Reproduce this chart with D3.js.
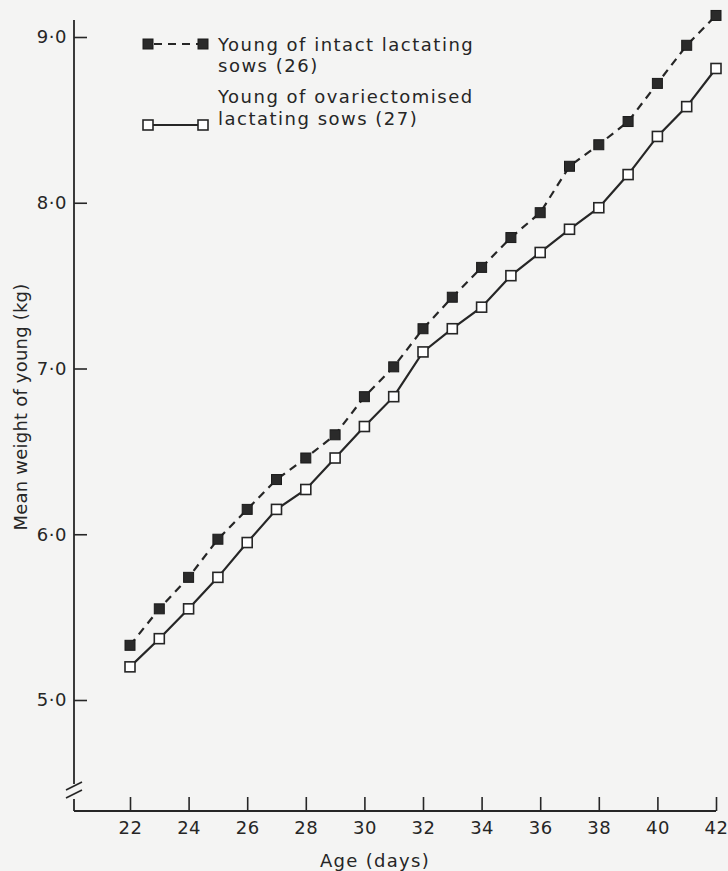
<!DOCTYPE html>
<html>
<head>
<meta charset="utf-8">
<script src="https://cdn.jsdelivr.net/npm/d3@7"></script>
<style>
  html, body { margin: 0; padding: 0; background: #f4f4f3; }
  svg { display: block; }
  text { font-family: "DejaVu Sans", sans-serif; fill: #262626; }
</style>
</head>
<body>
<script>
// ---- data ----
const ages = [22,23,24,25,26,27,28,29,30,31,32,33,34,35,36,37,38,39,40,41,42];
const intact = [5.33,5.55,5.74,5.97,6.15,6.33,6.46,6.60,6.83,7.01,7.24,7.43,7.61,7.79,7.94,8.22,8.35,8.49,8.72,8.95,9.13];
const ovariectomised = [5.20,5.37,5.55,5.74,5.95,6.15,6.27,6.46,6.65,6.83,7.10,7.24,7.37,7.56,7.70,7.84,7.97,8.17,8.40,8.58,8.81];
const xTicks = [22,24,26,28,30,32,34,36,38,40,42];
const yTicks = [5,6,7,8,9];
const legendLabels = [
  ["Young of intact lactating", "sows (26)"],
  ["Young of ovariectomised", "lactating sows (27)"]
];
const xTitle = "Age (days)";
const yTitle = "Mean weight of young (kg)";

// ---- layout ----
const W = 728, H = 871;
const ink = "#262626";
const svg = d3.select("body").append("svg").attr("width", W).attr("height", H);

const x = d3.scaleLinear().domain([22, 42]).range([130, 716]);
const y = d3.scaleLinear().domain([5, 9]).range([700, 37]);
const axisX = 74, axisY = 811;

// y axis
const yAxis = d3.axisLeft(y).tickValues(yTicks).tickSizeInner(-13).tickSizeOuter(0).tickPadding(7)
  .tickFormat(d => d3.format(".1f")(d).replace(".", "·"));
const gy = svg.append("g").attr("transform", `translate(${axisX},0)`).call(yAxis);
gy.select(".domain").remove();
gy.selectAll(".tick line").attr("stroke", ink).attr("stroke-width", 1.6);
gy.selectAll(".tick text").attr("font-size", 18).attr("font-family", "DejaVu Sans").attr("fill", ink)
  .attr("letter-spacing", 0.5);

// y axis line with break
svg.append("line").attr("x1", axisX).attr("x2", axisX).attr("y1", 20).attr("y2", 784)
  .attr("stroke", ink).attr("stroke-width", 1.8);
svg.append("line").attr("x1", axisX).attr("x2", axisX).attr("y1", 799).attr("y2", axisY)
  .attr("stroke", ink).attr("stroke-width", 1.8);
[[790, 782], [798, 790]].forEach(([a, b]) => {
  svg.append("line").attr("x1", axisX - 8).attr("x2", axisX + 8).attr("y1", a).attr("y2", b)
    .attr("stroke", ink).attr("stroke-width", 1.6);
});

// x axis
const xAxis = d3.axisBottom(x).tickValues(xTicks).tickSizeInner(-14).tickSizeOuter(0).tickPadding(10);
const gx = svg.append("g").attr("transform", `translate(0,${axisY})`).call(xAxis);
gx.select(".domain").remove();
gx.selectAll(".tick line").attr("stroke", ink).attr("stroke-width", 1.6);
gx.selectAll(".tick text").attr("font-size", 18).attr("font-family", "DejaVu Sans").attr("fill", ink)
  .attr("letter-spacing", 0.5);
svg.append("line").attr("x1", axisX).attr("x2", x(42)).attr("y1", axisY).attr("y2", axisY)
  .attr("stroke", ink).attr("stroke-width", 1.8);

// titles
svg.append("text").attr("x", 375).attr("y", 867).attr("text-anchor", "middle")
  .attr("font-size", 18).attr("letter-spacing", 1.3).text(xTitle);
svg.append("text").attr("transform", "translate(27,407) rotate(-90)").attr("text-anchor", "middle")
  .attr("font-size", 18).attr("letter-spacing", 0.2).text(yTitle);

// series
const line = d3.line().x(d => x(d[0])).y(d => y(d[1]));
const sA = ages.map((a, i) => [a, intact[i]]);
const sB = ages.map((a, i) => [a, ovariectomised[i]]);

svg.append("path").datum(sA).attr("d", line).attr("fill", "none").attr("stroke", ink)
  .attr("stroke-width", 2.2).attr("stroke-dasharray", "8,6");
svg.append("path").datum(sB).attr("d", line).attr("fill", "none").attr("stroke", ink)
  .attr("stroke-width", 2.2);

const ms = 10;
svg.append("g").selectAll("rect").data(sA).join("rect")
  .attr("x", d => x(d[0]) - ms / 2).attr("y", d => y(d[1]) - ms / 2)
  .attr("width", ms).attr("height", ms).attr("fill", "#2a2a2a").attr("stroke", "#1a1a1a").attr("stroke-width", 1);
svg.append("g").selectAll("rect").data(sB).join("rect")
  .attr("x", d => x(d[0]) - ms / 2).attr("y", d => y(d[1]) - ms / 2)
  .attr("width", ms).attr("height", ms).attr("fill", "#ffffff").attr("stroke", ink).attr("stroke-width", 1.6);

// legend
const lg = svg.append("g");
const lx1 = 148, lx2 = 203;
const fs = 18, ls = 1.5;
// entry 1
lg.append("line").attr("x1", lx1).attr("x2", lx2).attr("y1", 44).attr("y2", 44)
  .attr("stroke", ink).attr("stroke-width", 2.2).attr("stroke-dasharray", "8,6").attr("stroke-dashoffset", -6);
[lx1, lx2].forEach(px => lg.append("rect").attr("x", px - ms / 2).attr("y", 44 - ms / 2)
  .attr("width", ms).attr("height", ms).attr("fill", "#2a2a2a").attr("stroke", "#1a1a1a"));
lg.append("text").attr("x", 218).attr("y", 51).attr("font-size", fs).attr("letter-spacing", ls).text(legendLabels[0][0]);
lg.append("text").attr("x", 218).attr("y", 72).attr("font-size", fs).attr("letter-spacing", ls).text(legendLabels[0][1]);
// entry 2
lg.append("line").attr("x1", lx1).attr("x2", lx2).attr("y1", 125).attr("y2", 125)
  .attr("stroke", ink).attr("stroke-width", 2.2);
[lx1, lx2].forEach(px => lg.append("rect").attr("x", px - ms / 2).attr("y", 125 - ms / 2)
  .attr("width", ms).attr("height", ms).attr("fill", "#fff").attr("stroke", ink).attr("stroke-width", 1.6));
lg.append("text").attr("x", 218).attr("y", 103).attr("font-size", fs).attr("letter-spacing", ls).text(legendLabels[1][0]);
lg.append("text").attr("x", 218).attr("y", 125).attr("font-size", fs).attr("letter-spacing", ls).text(legendLabels[1][1]);
</script>
</body>
</html>
